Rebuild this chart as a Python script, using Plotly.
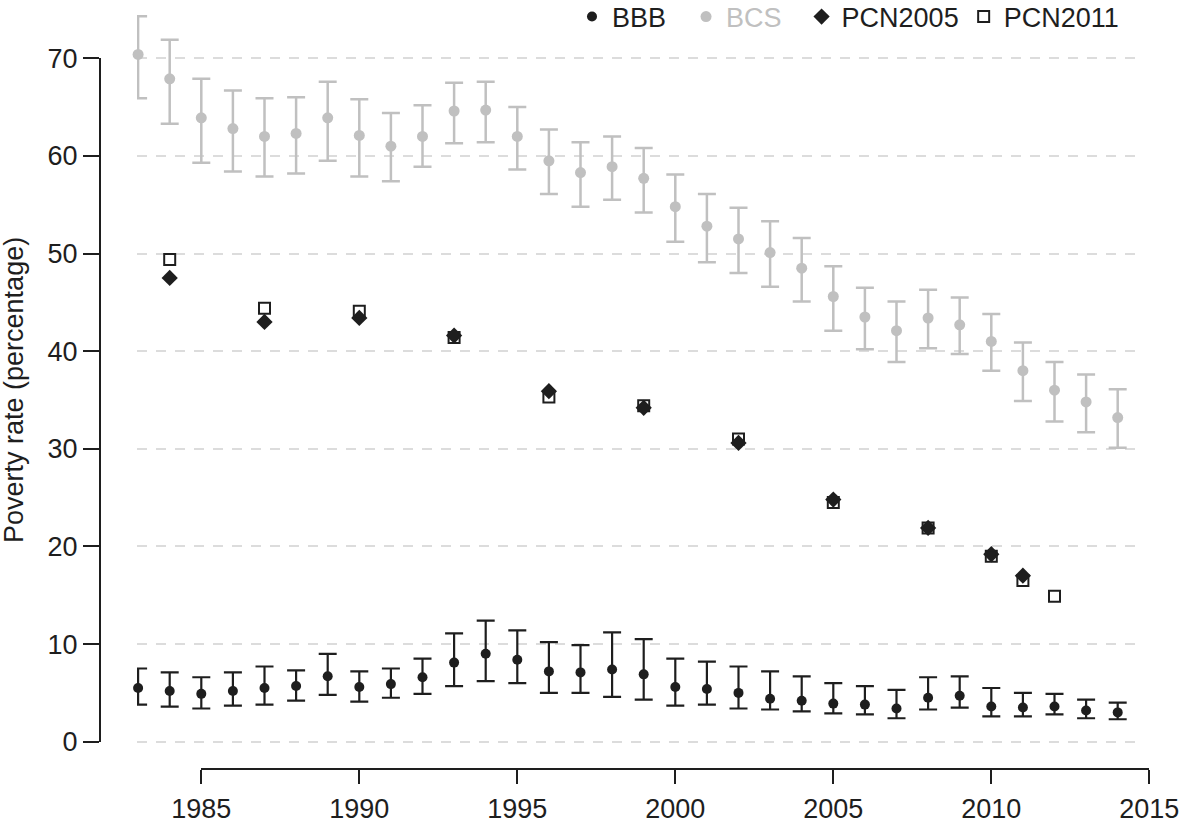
import plotly.graph_objects as go

# ---------------- data ----------------
years = [1983, 1984, 1985, 1986, 1987, 1988, 1989, 1990, 1991, 1992, 1993, 1994,
         1995, 1996, 1997, 1998, 1999, 2000, 2001, 2002, 2003, 2004, 2005, 2006,
         2007, 2008, 2009, 2010, 2011, 2012, 2013, 2014]

bbb = [5.5, 5.2, 4.9, 5.2, 5.5, 5.7, 6.7, 5.6, 5.9, 6.6, 8.1, 9.0,
       8.4, 7.2, 7.1, 7.4, 6.9, 5.6, 5.4, 5.0, 4.4, 4.2, 3.9, 3.8,
       3.4, 4.5, 4.7, 3.6, 3.5, 3.6, 3.2, 3.0]
bbb_hi = [7.5, 7.1, 6.6, 7.1, 7.7, 7.3, 9.0, 7.2, 7.5, 8.5, 11.1, 12.4,
          11.4, 10.2, 9.9, 11.2, 10.5, 8.5, 8.2, 7.7, 7.2, 6.7, 6.0, 5.7,
          5.3, 6.6, 6.7, 5.5, 5.0, 4.9, 4.3, 4.0]
bbb_lo = [3.8, 3.6, 3.4, 3.7, 3.8, 4.2, 4.8, 4.1, 4.5, 4.9, 5.7, 6.2,
          6.0, 5.0, 5.0, 4.6, 4.3, 3.7, 3.8, 3.4, 3.3, 3.1, 2.9, 2.8,
          2.4, 3.3, 3.5, 2.6, 2.6, 2.8, 2.4, 2.3]

bcs = [70.4, 67.9, 63.9, 62.8, 62.0, 62.3, 63.9, 62.1, 61.0, 62.0, 64.6, 64.7,
       62.0, 59.5, 58.3, 58.9, 57.7, 54.8, 52.8, 51.5, 50.1, 48.5, 45.6, 43.5,
       42.1, 43.4, 42.7, 41.0, 38.0, 36.0, 34.8, 33.2]
bcs_hi = [74.3, 71.9, 67.9, 66.7, 65.9, 66.0, 67.6, 65.8, 64.4, 65.2, 67.5, 67.6,
          65.0, 62.7, 61.4, 62.0, 60.8, 58.1, 56.1, 54.7, 53.3, 51.6, 48.7, 46.5,
          45.1, 46.3, 45.5, 43.8, 40.9, 38.9, 37.6, 36.1]
bcs_lo = [65.9, 63.3, 59.3, 58.4, 57.9, 58.2, 59.5, 57.9, 57.4, 58.9, 61.3, 61.4,
          58.6, 56.1, 54.8, 55.5, 54.2, 51.2, 49.1, 48.0, 46.6, 45.1, 42.1, 40.2,
          38.9, 40.3, 39.7, 38.0, 34.9, 32.8, 31.7, 30.1]

pcn2005_years = [1984, 1987, 1990, 1993, 1996, 1999, 2002, 2005, 2008, 2010, 2011]
pcn2005 = [47.5, 43.0, 43.4, 41.6, 35.9, 34.2, 30.6, 24.8, 21.9, 19.2, 17.0]

pcn2011_years = [1984, 1987, 1990, 1993, 1996, 1999, 2002, 2005, 2008, 2010, 2011, 2012]
pcn2011 = [49.4, 44.4, 44.1, 41.4, 35.3, 34.4, 31.0, 24.5, 21.9, 19.0, 16.5, 14.9]

x_ticks = [1985, 1990, 1995, 2000, 2005, 2010, 2015]
y_ticks = [0, 10, 20, 30, 40, 50, 60, 70]

# ---------------- styling / layout constants ----------------
W, H = 1189, 824
FONT = "Liberation Sans, Arial, Helvetica, sans-serif"
BLACK = "#1e1e1e"
GREY = "#c0c0c0"
GRID = "#dcdcdc"
FS = 27
SP = "\u00a0\u00a0"   # extra gap after each legend entry

# pixel calibration of the reference
px_1985, px_per_year = 201.3, 31.6
py_0, py_per_unit = 741.7, 9.763

def xval(px):
    return 1985 + (px - px_1985) / px_per_year

def yval(py):
    return (py_0 - py) / py_per_unit

fig = go.Figure()

fig.add_trace(go.Scatter(
    x=years, y=bbb, mode="markers", name="BBB" + SP,
    marker=dict(color=BLACK, size=10),
    error_y=dict(type="data", symmetric=False,
                 array=[h - v for h, v in zip(bbb_hi, bbb)],
                 arrayminus=[v - l for v, l in zip(bbb, bbb_lo)],
                 color=BLACK, thickness=2.2, width=9),
    cliponaxis=False,
))
fig.add_trace(go.Scatter(
    x=years, y=bcs, mode="markers",
    name="<span style='color:%s'>BCS</span>" % GREY + SP,
    marker=dict(color=GREY, size=11),
    error_y=dict(type="data", symmetric=False,
                 array=[h - v for h, v in zip(bcs_hi, bcs)],
                 arrayminus=[v - l for v, l in zip(bcs, bcs_lo)],
                 color=GREY, thickness=2.5, width=9),
    cliponaxis=False,
))
fig.add_trace(go.Scatter(
    x=pcn2005_years, y=pcn2005, mode="markers", name="PCN2005",
    marker=dict(symbol="diamond", color=BLACK, size=12.5),
    cliponaxis=False,
))
fig.add_trace(go.Scatter(
    x=pcn2011_years, y=pcn2011, mode="markers", name="PCN2011",
    marker=dict(symbol="square-open", color=BLACK, size=11,
                line=dict(color=BLACK, width=2)),
    cliponaxis=False,
))
# empty trace that carries the detached axis lines
fig.add_trace(go.Scatter(x=[], y=[], xaxis="x2", yaxis="y2",
                         showlegend=False, hoverinfo="skip"))

fig.update_layout(
    width=W, height=H,
    margin=dict(l=0, r=0, t=0, b=0, autoexpand=False),
    paper_bgcolor="white", plot_bgcolor="rgba(0,0,0,0)",
    font=dict(family=FONT, size=FS, color=BLACK),
    showlegend=True,
    legend=dict(orientation="h", x=1124 / W, xanchor="right",
                y=(H - 17) / H, yanchor="middle",
                font=dict(size=FS, color=BLACK),
                bgcolor="rgba(0,0,0,0)", itemsizing="trace"),
    xaxis=dict(domain=[137 / W, 1140 / W], range=[xval(137), xval(1140)],
               visible=False, automargin=False),
    yaxis=dict(domain=[0, 1], range=[yval(H), yval(0)],
               showgrid=True, gridcolor=GRID, gridwidth=2, griddash="10px,9px",
               tickvals=y_ticks, showticklabels=False, ticks="",
               zeroline=False, showline=False, automargin=False),
    xaxis2=dict(domain=[px_1985 / W, (px_1985 + 30 * px_per_year) / W],
                range=[1985, 2015], anchor="free", position=(H - 769) / H,
                tickvals=x_ticks, ticks="outside", ticklen=14, tickwidth=2,
                tickcolor=BLACK, showline=True, linecolor=BLACK, linewidth=2,
                showgrid=False, zeroline=False, tickfont=dict(size=FS),
                ticklabelstandoff=2, automargin=False),
    yaxis2=dict(domain=[(H - py_0) / H, (H - (py_0 - 70 * py_per_unit)) / H],
                range=[0, 70], anchor="free", position=100 / W, side="left",
                tickvals=y_ticks, ticks="outside", ticklen=16, tickwidth=2,
                tickcolor=BLACK, showline=True, linecolor=BLACK, linewidth=2,
                showgrid=False, zeroline=False, tickfont=dict(size=FS),
                automargin=False),
    annotations=[dict(text="Poverty rate (percentage)", textangle=-90,
                      xref="paper", yref="paper", x=14 / W, y=(H - 390) / H,
                      xanchor="center", yanchor="middle", showarrow=False,
                      font=dict(size=FS, color=BLACK))],
)

fig.write_html("out.html",
               config={"displayModeBar": False},
               post_script="document.body.style.margin='0';"
                           "document.body.style.overflow='hidden';")
